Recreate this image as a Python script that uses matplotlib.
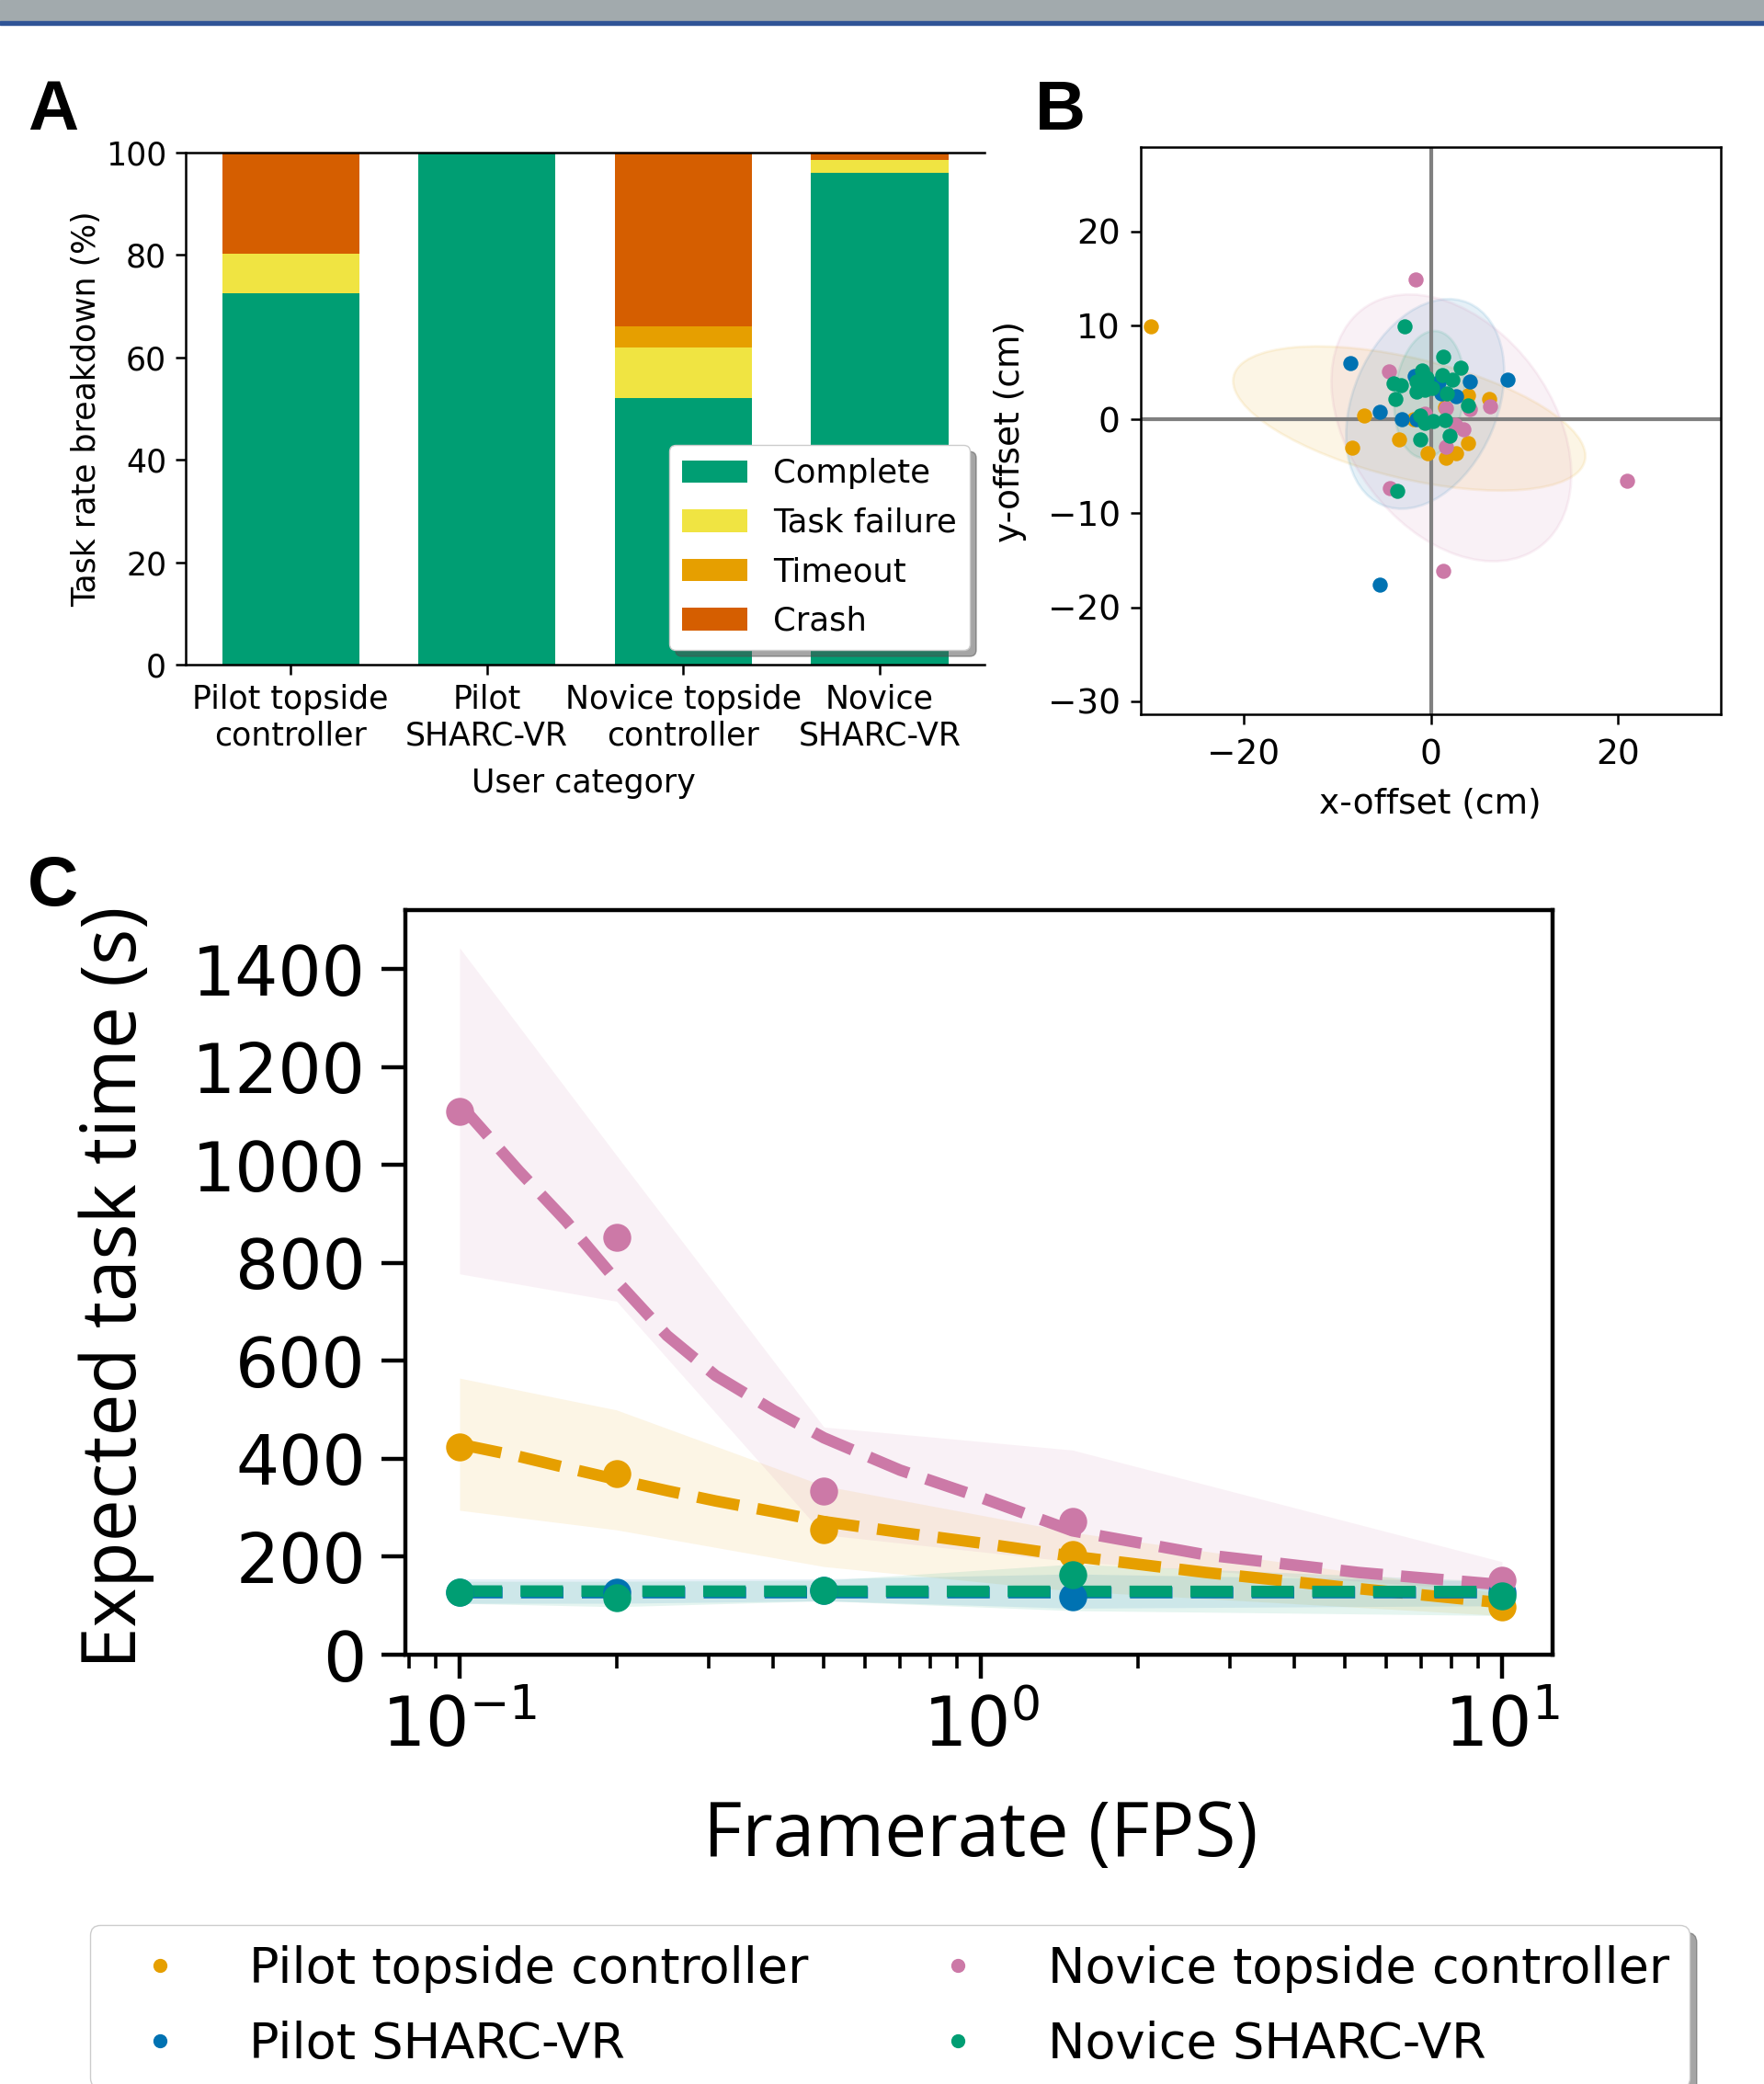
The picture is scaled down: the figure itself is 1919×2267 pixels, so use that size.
import matplotlib
matplotlib.use("Agg")
import matplotlib.pyplot as plt
from matplotlib.patches import Ellipse, Rectangle
from matplotlib.lines import Line2D

W, H = 1919, 2267

# colours (colour-blind palette)
C_ORANGE = "#E69F00"
C_BLUE = "#0072B2"
C_PINK = "#CC79A7"
C_GREEN = "#009E73"

# ---------------- panel A data ----------------
user_cats = ["Pilot topside\ncontroller", "Pilot\nSHARC-VR",
             "Novice topside\ncontroller", "Novice\nSHARC-VR"]
outcomes = ["Complete", "Task failure", "Timeout", "Crash"]
outcome_colors = ["#009E73", "#F0E442", "#E69F00", "#D55E00"]
complete = [72.6, 100.0, 52.0, 96.1]
task_failure = [7.7, 0.0, 9.9, 2.5]
timeout = [0.0, 0.0, 4.2, 0.0]
crash = [19.7, 0.0, 33.9, 1.4]

# ---------------- panel B data ----------------
groups = ["Pilot topside controller", "Pilot SHARC-VR",
          "Novice topside controller", "Novice SHARC-VR"]
group_colors = [C_ORANGE, C_BLUE, C_PINK, C_GREEN]

pt_x = [-29.9, -7.1, -8.4, -3.4, -0.3, 1.6, 2.7, 4.0, 4.0, 6.2, -1.8, 1.5]
pt_y = [9.9, 0.4, -3.0, -2.1, -3.6, -4.1, -3.6, -2.5, 2.6, 2.2, 0.0, 1.3]
ps_x = [-8.6, -5.5, -3.1, 4.2, 8.2, 2.7, 1.1, -5.5, -1.7, -1.5, 0.8]
ps_y = [6.0, 0.8, 0.0, 4.0, 4.2, 2.5, 2.8, -17.6, 4.6, 0.0, 3.9]
nt_x = [-1.6, -4.5, 1.6, 4.2, 6.3, 3.5, 2.6, 1.6, -4.4, 21.0, 1.3, -0.6]
nt_y = [14.9, 5.1, 1.2, 1.1, 1.4, -1.1, -0.6, -2.9, -7.3, -6.5, -16.1, 0.6]
ns_x = [-2.8, 1.3, 3.2, -4.0, -3.2, -3.8, -0.9, -1.5, -0.4, -0.6, -1.5, 1.2,
        2.3, 1.7, 4.0, -1.1, -0.6, 0.2, 1.5, -1.1, 2.0, -3.6, 0.1]
ns_y = [9.9, 6.7, 5.5, 3.8, 3.6, 2.2, 5.2, 4.0, 4.4, 3.2, 3.0, 4.7,
        4.2, 2.8, 1.5, 0.4, -0.4, -0.2, -0.1, -2.1, -1.7, -7.6, 3.4]

# spread ellipses: centre x, centre y, width, height, angle (deg)
ell_cx = [-2.3, -0.6, 2.2, -0.15]
ell_cy = [0.1, 1.65, -0.9, 2.65]
ell_w = [38.6, 23.4, 31.6, 13.6]
ell_h = [12.8, 15.4, 21.6, 7.4]
ell_ang = [-13.5, 66.7, -53.2, 83.4]

# ---------------- panel C data ----------------
fps = [0.1, 0.2, 0.5, 1.5, 10]
pt_time = [425, 369, 255, 205, 97]
ps_time = [127, 127, 132, 118, 127]
nt_time = [1110, 852, 335, 273, 153]
ns_time = [127, 117, 132, 163, 121]

pt_lo = [295, 255, 180, 130, 80]
pt_hi = [565, 500, 345, 250, 125]
ps_lo = [105, 105, 110, 95, 100]
ps_hi = [155, 155, 155, 165, 150]
nt_lo = [778, 722, 245, 190, 130]
nt_hi = [1444, 1020, 465, 418, 190]
ns_lo = [105, 98, 110, 90, 80]
ns_hi = [150, 150, 152, 185, 150]

fit_x = [0.1, 0.13, 0.16, 0.2, 0.25, 0.31, 0.4, 0.5, 0.7, 1.0, 1.5, 2.7, 5.3, 10]
pt_fit = [430, 405, 382, 358, 335, 314, 292, 272, 250, 228, 201, 168, 135, 106]
nt_fit = [1125, 988, 886, 764, 652, 570, 499, 443, 377, 321, 253, 204, 168, 143]
ps_fit_x = [0.1, 10]
ps_fit = [128, 128]
ns_fit = [130, 129]


def box(l, t, r, b):
    return [l / W, 1 - b / H, (r - l) / W, (b - t) / H]


def fx(x):
    return x / W


def fy(y):
    return 1 - y / H


fig = plt.figure(figsize=(W / 100, H / 100), dpi=100)

# header band
fig.patches.append(Rectangle((0, fy(23)), 1, 23 / H, transform=fig.transFigure,
                             color="#A2AAAD", zorder=0))
fig.patches.append(Rectangle((0, fy(26.5)), 1, 3.5 / H, transform=fig.transFigure,
                             color="#2F5496", zorder=0))

# ================= Panel A =================
FS_A = 25
axA = fig.add_axes(box(202, 166, 1071, 723))
xs = range(len(user_cats))
bottom = [0, 0, 0, 0]
for name, vals, col in zip(outcomes, [complete, task_failure, timeout, crash], outcome_colors):
    axA.bar(xs, vals, 0.7, bottom=bottom, color=col, label=name)
    bottom = [b + v for b, v in zip(bottom, vals)]
axA.set_ylim(0, 100)
axA.set_yticks([0, 20, 40, 60, 80, 100])
axA.set_xticks(list(xs))
axA.set_xticklabels(user_cats)
axA.spines["right"].set_visible(False)
for s in axA.spines.values():
    s.set_linewidth(1.8)
axA.tick_params(labelsize=FS_A, length=8, width=1.8, pad=7)
axA.legend(loc="lower right", fontsize=25.5, shadow={"ox": 5, "oy": -5},
           framealpha=1, borderaxespad=0.45, labelspacing=0.55)
fig.text(fx(94), fy(445), "Task rate breakdown (%)", rotation=90,
         ha="center", va="center", fontsize=FS_A)
fig.text(fx(635), fy(852), "User category", ha="center", va="center", fontsize=FS_A)

# ================= Panel B =================
FS_B = 27
axB = fig.add_axes(box(1241, 160, 1872, 777))
for cx, cy, w, h, a, col in zip(ell_cx, ell_cy, ell_w, ell_h, ell_ang, group_colors):
    axB.add_patch(Ellipse((cx, cy), w, h, angle=a, facecolor=col, alpha=0.1,
                          edgecolor=col, lw=2, zorder=1))
axB.axhline(0, color="#808080", lw=3, zorder=2)
axB.axvline(0, color="#808080", lw=3, zorder=2)
for gx, gy, col in zip([pt_x, ps_x, nt_x, ns_x], [pt_y, ps_y, nt_y, ns_y], group_colors):
    axB.scatter(gx, gy, s=140, color=col, zorder=3, linewidths=0)
axB.set_xlim(-31, 31)
axB.set_ylim(-31.4, 29.0)
axB.set_xticks([-20, 0, 20])
axB.set_yticks([-30, -20, -10, 0, 10, 20])
for s in axB.spines.values():
    s.set_linewidth(1.8)
axB.tick_params(labelsize=FS_B, length=8, width=1.8, pad=8)
axB.tick_params(axis="x", pad=11)
fig.text(fx(1556), fy(875), "x-offset (cm)", ha="center", va="center", fontsize=FS_B)
fig.text(fx(1099), fy(470), "y-offset (cm)", rotation=90,
         ha="center", va="center", fontsize=FS_B)

# ================= Panel C =================
axC = fig.add_axes(box(441, 990, 1689, 1800))
for lo, hi, col in zip([pt_lo, ps_lo, nt_lo, ns_lo], [pt_hi, ps_hi, nt_hi, ns_hi], group_colors):
    axC.fill_between(fps, lo, hi, color=col, alpha=0.1, lw=0)
axC.plot(fit_x, pt_fit, ls="--", color=C_ORANGE, lw=9, zorder=3)
axC.plot(ps_fit_x, ps_fit, ls="--", color=C_BLUE, lw=9, zorder=3)
axC.plot(fit_x, nt_fit, ls="--", color=C_PINK, lw=9, zorder=3)
axC.plot(ps_fit_x, ns_fit, ls="--", color=C_GREEN, lw=9, zorder=3)
for vals, col in zip([pt_time, ps_time, nt_time, ns_time], group_colors):
    axC.scatter(fps, vals, s=480, color=col, zorder=4, linewidths=0)
axC.set_xscale("log")
axC.set_xlim(10 ** -1.104, 10 ** 1.097)
axC.set_ylim(0, 1521)
axC.set_yticks(range(0, 1401, 200))
for s in axC.spines.values():
    s.set_linewidth(3.2)
axC.tick_params(which="major", labelsize=53.5, length=19, width=3.2, pad=12)
axC.tick_params(which="minor", length=11, width=2.6)
fig.text(fx(127), fy(1400), "Expected task time (s)", rotation=90, ha="center",
         va="center", fontsize=59, family="Open Sans")
fig.text(fx(1067), fy(1998), "Framerate (FPS)", ha="center", va="center",
         fontsize=59, family="Open Sans")

# panel letters
for lx, ly, t in [(30, 86, "A"), (1126, 86, "B"), (30, 930, "C")]:
    fig.text(fx(lx), fy(ly), t, ha="left", va="top", fontsize=55,
             fontweight="bold", family="Liberation Sans")

# bottom legend
handles = [Line2D([], [], marker="o", ls="", color=c, markersize=10) for c in group_colors]
fig.legend(handles, groups, ncol=2, loc="upper left",
           bbox_to_anchor=(fx(98), fy(2094)), borderaxespad=0, fontsize=39,
           borderpad=0.4, labelspacing=0.55, shadow={"ox": 6, "oy": -6},
           framealpha=1)

fig.savefig("out.png", dpi=100)
